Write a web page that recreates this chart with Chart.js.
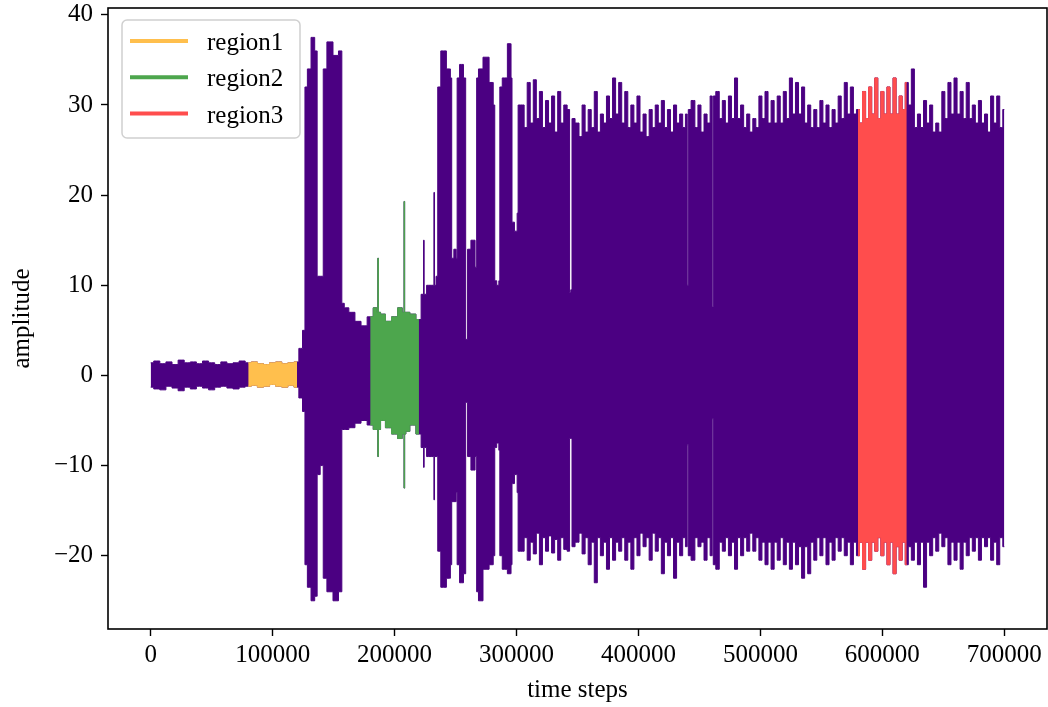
<!DOCTYPE html>
<html>
<head>
<meta charset="utf-8">
<title>amplitude over time steps</title>
<script src="https://cdn.jsdelivr.net/npm/chart.js@4.4.0/dist/chart.umd.min.js"></script>
<style>
  html, body { margin: 0; padding: 0; background: #fff; }
  #wrap { width: 1048px; height: 707px; position: relative; }
</style>
</head>
<body>
<div id="wrap"><canvas id="signalChart"></canvas></div>
<script>
// Signal envelope: time step, upper and lower amplitude
const steps = [
    0, 5000, 10000, 15000, 20000, 25000, 30000, 35000, 40000, 45000,
    50000, 55000, 60000, 65000, 70000, 75000, 80000, 85000, 90000, 95000,
    100000, 105000, 110000, 115000, 120000, 123000, 126000, 127000, 130000, 133000,
    136000, 137000, 141000, 142000, 147000, 152000, 156000, 157500, 160000, 165000,
    170000, 175000, 180000, 185000, 186000, 186500, 187000, 190000, 195000, 200000,
    205000, 207500, 208000, 208500, 210000, 215000, 220000, 223500, 224000, 224500,
    228000, 232000, 232500, 233000, 235000, 235800, 240000, 245000, 246500, 247200,
    250000, 251000, 251600, 255000, 258000, 258600, 259500, 260200, 265000, 267000,
    267600, 270000, 275000, 280000, 281800, 282500, 285000, 286000, 286600, 290000,
    295000, 296000, 296600, 300000, 301000,
    301600, 305000, 307500, 310000, 312500, 315000, 317500, 320000, 322500, 325000,
    327500, 330000, 332500, 335000, 337500, 340000, 343000, 344000, 345000, 346000,
    350000, 352500, 355000, 357500, 360000, 362500, 365000, 367500, 370000, 372500,
    375000, 377500, 380000, 382500, 385000, 387500, 390000, 392500, 395000, 397500,
    400000, 402500, 405000, 407500, 410000, 412500, 415000, 417500, 420000, 422500,
    425000, 427500, 430000, 432500, 435000, 437500, 439500, 440400, 441300, 445000,
    447500, 450000, 452500, 455000, 457500, 460000, 460900, 461800, 465000, 467500,
    470000, 472500, 475000, 477500, 480000, 482500, 485000, 487500, 490000, 492500,
    495000, 497500, 500000, 502500, 505000, 507500, 510000, 512500, 515000, 517500,
    520000, 522500, 525000, 527500, 530000, 532500, 535000, 537500, 540000, 542500,
    545000, 547500, 550000, 552500, 555000, 557500, 560000, 562500, 565000, 567500,
    570000, 572500, 575000, 577500, 580000, 582500, 585000, 587500, 590000, 592500,
    595000, 597500, 600000, 602500, 605000, 607500, 610000, 612500, 615000, 617500,
    620000, 622500, 625000, 627500, 630000, 632500, 635000, 637500, 640000, 642500,
    645000, 647500, 650000, 652500, 655000, 657500, 660000, 662500, 665000, 667500,
    670000, 672500, 675000, 677500, 680000, 682500, 685000, 687500, 690000, 692500,
    695000, 697500, 700000
];
const upper = [
    1.4, 1.6, 1.3, 1.5, 1.2, 1.7, 1.4, 1.5, 1.3, 1.6,
    1.4, 1.2, 1.5, 1.3, 1.4, 1.6, 1.4, 1.5, 1.3, 1.2,
    1.4, 1.5, 1.3, 1.4, 1.5, 3, 5, 32, 34, 37.5,
    36, 11, 11, 34, 37, 35.5, 36, 8, 7.5, 7,
    6, 5.5, 6.5, 7.5, 7, 13, 7, 6.8, 6, 6.5,
    7.5, 7, 19.3, 7, 7, 6.8, 6.2, 9, 15, 9,
    10, 10, 20.3, 10, 11, 32, 36, 34, 33, 13,
    14, 13, 33, 34.5, 33, 4, 4, 14, 15, 12,
    33, 34, 35.3, 32.5, 30, 10.5, 10, 10.5, 32, 33,
    36.8, 33, 17, 16, 18,
    30, 30, 27.5, 32.5, 28, 32.8, 28.5, 31.5, 27.5, 30.5,
    28, 31, 27, 31.5, 28, 30, 29.5, 9.2, 9.5, 28.5,
    28, 26.5, 30, 27, 29.5, 27.5, 31.5, 27, 29, 28,
    31, 28.5, 33, 29, 32.5, 28, 31.5, 27.5, 30, 28,
    31, 27, 29, 26.5, 29.5, 27.5, 30, 28, 30.5, 27.5,
    29.5, 27, 30, 28, 29, 27.5, 29, 10, 29.5, 30.5,
    27.5, 30, 27, 29, 28, 31, 7.6, 31, 31.5, 28.5,
    30.5, 28, 31, 28.5, 33, 28.5, 30, 27.5, 29, 27,
    28.5, 27.5, 31, 28.5, 31.5, 28, 30.5, 28, 31, 28,
    31.5, 28.5, 33, 29, 32.5, 29, 32, 28, 30, 27.5,
    29.5, 27.5, 30.5, 28, 30, 27.5, 29.5, 28, 31, 28.5,
    32.5, 29, 32, 29, 29.5, 28, 31.5, 28.5, 32, 29,
    33, 28.5, 31.5, 29, 32, 29, 33, 29, 31, 29.5,
    32.5, 30, 34, 27.5, 29, 27.5, 30.5, 28, 30, 27,
    28, 27, 31.5, 28.5, 32.5, 29, 33, 29, 31.5, 28.5,
    32.5, 28.5, 30, 28, 30.5, 28, 29, 27, 31, 28,
    31, 27.5, 29.5
];
const lower = [
    -1.3, -1.5, -1.6, -1.2, -1.4, -1.7, -1.3, -1.5, -1.2, -1.4,
    -1.6, -1.3, -1.2, -1.4, -1.5, -1.3, -1.2, -1.1, -1.3, -1.2,
    -1.0, -1.2, -1.3, -1.1, -1.3, -2.5, -4, -21, -23.5, -25,
    -24.5, -11, -10, -22.5, -24, -25, -24, -6, -6, -5.8,
    -5.3, -5, -5.5, -6, -6, -9, -6, -5, -5.8, -6.5,
    -7, -6.5, -12.5, -6.5, -6.2, -5.5, -6.5, -8, -10.2, -8,
    -9, -9, -13.8, -9, -9, -19.5, -23.5, -22.5, -21, -14,
    -14, -13, -21, -23, -22, -3, -3, -9, -10.5, -9,
    -24, -25, -21.5, -21, -20, -8, -7.5, -8.3, -20, -21.5,
    -22, -21, -12, -11, -13,
    -19.5, -19.5, -18, -20.5, -18.5, -19.8, -17.5, -21, -18, -19.5,
    -17.8, -19.7, -18.2, -20.5, -18, -19.3, -19.5, -7, -7, -19,
    -18.5, -17.5, -19.8, -18, -21, -18.5, -23, -18, -20, -18.5,
    -21.5, -18, -20.5, -18.5, -19.5, -18, -20.5, -18.5, -21.5, -18,
    -20, -17.5, -19, -18, -20.5, -17.5, -19.5, -18, -22, -18.5,
    -20, -18, -22.5, -18.5, -20, -18, -19, -7.7, -20, -20.5,
    -18, -19, -18.5, -20.5, -18, -20, -4.8, -21, -21.5, -18.5,
    -19.5, -18, -20, -18.5, -21.5, -18, -20, -18, -19.5, -17.5,
    -19.5, -18, -20.5, -18.5, -21, -18.5, -21.5, -18.5, -20.5, -18,
    -21, -18.5, -21.5, -18.5, -21, -19, -22.5, -19, -22, -18.5,
    -20.5, -18, -20, -18, -21, -18.5, -20.5, -18, -19.5, -18,
    -20, -18.5, -21, -18.5, -20, -18.5, -21.5, -18.5, -20.5, -18.5,
    -19.5, -18, -20, -18.5, -21, -18.5, -22, -19, -20.5, -18.5,
    -21, -19, -20.5, -18.5, -21, -18.5, -23.5, -18.5, -20, -18,
    -19.5, -17.5, -19, -18, -21, -18.5, -20.5, -18.5, -21.5, -18.5,
    -20, -18, -19.5, -18, -20.5, -18, -19, -18, -20.5, -18.5,
    -21, -18, -19
];

if (steps.length !== upper.length || steps.length !== lower.length) {
    throw new Error(`length mismatch: ${steps.length} ${upper.length} ${lower.length}`);
}

// Highlighted windows
const regionLabels = ['region1', 'region2', 'region3'];
const regionStarts = [80000, 180000, 580000];
const regionEnds = [120000, 220000, 620000];
const regionColors = ['#FFBF4D', '#4DA64D', '#FF4D4D'];

const xTicks = [0, 100000, 200000, 300000, 400000, 500000, 600000, 700000];
const yTicks = [-20, -10, 0, 10, 20, 30, 40];

const signalColor = '#4B0082';
const fontFamily = '"Liberation Serif", "DejaVu Serif", serif';

// Build an upper/lower pair of line datasets, filled between each other
function envelopePair(from, to, color, order) {
    const up = [];
    const low = [];
    steps.forEach((s, i) => {
        if (s >= from && s <= to) {
            up.push({ x: s, y: upper[i] });
            low.push({ x: s, y: lower[i] });
        }
    });
    const common = {
        borderColor: color,
        backgroundColor: color,
        borderWidth: 1,
        pointRadius: 0,
        stepped: 'middle',
        order: order
    };
    return [
        Object.assign({ data: up, fill: false }, common),
        Object.assign({ data: low, fill: '-1' }, common)
    ];
}

let datasets = envelopePair(steps[0], steps[steps.length - 1], signalColor, 4);
regionLabels.forEach((label, k) => {
    datasets = datasets.concat(envelopePair(regionStarts[k], regionEnds[k], regionColors[k], 1));
});

// Spines on all four sides
const framePlugin = {
    id: 'frame',
    afterDraw(chart) {
        const { ctx, chartArea } = chart;
        ctx.save();
        ctx.strokeStyle = '#000';
        ctx.lineWidth = 1.6;
        ctx.strokeRect(chartArea.left, chartArea.top,
            chartArea.right - chartArea.left, chartArea.bottom - chartArea.top);
        ctx.restore();
    }
};

// Legend box in the upper left corner, like matplotlib's
const legendPlugin = {
    id: 'regionLegend',
    afterDraw(chart) {
        const ctx = chart.ctx;
        const left = chart.chartArea.left + 14;
        const top = chart.chartArea.top + 12;
        const width = 178;
        const height = 118;
        ctx.save();
        ctx.beginPath();
        ctx.roundRect(left, top, width, height, 5);
        ctx.fillStyle = 'rgba(255,255,255,0.85)';
        ctx.fill();
        ctx.strokeStyle = '#d0d0d0';
        ctx.lineWidth = 1.5;
        ctx.stroke();

        ctx.font = '25px ' + fontFamily;
        ctx.fillStyle = '#000';
        ctx.textBaseline = 'alphabetic';
        regionLabels.forEach((label, k) => {
            const y = top + 21 + k * 36.3;
            ctx.beginPath();
            ctx.moveTo(left + 8, y);
            ctx.lineTo(left + 66, y);
            ctx.strokeStyle = regionColors[k];
            ctx.lineWidth = 4;
            ctx.stroke();
            ctx.fillText(label, left + 85, y + 9);
        });
        ctx.restore();
    }
};

const ctx = document.getElementById('signalChart').getContext('2d');
const chart = new Chart(ctx, {
    type: 'line',
    data: { datasets: datasets },
    options: {
        responsive: true,
        maintainAspectRatio: false,
        animation: false,
        layout: { padding: { left: 0, right: 1, top: 8, bottom: 0 } },
        plugins: {
            legend: { display: false },
            tooltip: { enabled: false }
        },
        scales: {
            x: {
                type: 'linear',
                min: -35000,
                max: 735000,
                afterBuildTicks: scale => { scale.ticks = xTicks.map(v => ({ value: v })); },
                afterFit: scale => {
                    scale.height = 78;
                    scale.paddingLeft = 0;
                    scale.paddingRight = 0;
                },
                ticks: {
                    color: '#000',
                    font: { family: fontFamily, size: 25 },
                    padding: 4,
                    maxRotation: 0,
                    autoSkip: false,
                    callback: v => String(v)
                },
                grid: { drawOnChartArea: false, drawTicks: true, tickLength: 7, tickColor: '#000', tickWidth: 1.4 },
                border: { display: false },
                title: {
                    display: true,
                    text: 'time steps',
                    color: '#000',
                    font: { family: fontFamily, size: 25 },
                    padding: { top: 0, bottom: 2 }
                }
            },
            y: {
                type: 'linear',
                min: -28.13,
                max: 40.76,
                afterBuildTicks: scale => { scale.ticks = yTicks.map(v => ({ value: v })); },
                afterFit: scale => {
                    scale.width = 108;
                    scale.paddingTop = 0;
                    scale.paddingBottom = 0;
                },
                ticks: {
                    color: '#000',
                    font: { family: fontFamily, size: 25 },
                    padding: 8,
                    callback: v => (v < 0 ? '\u2212' + Math.abs(v) : String(v))
                },
                grid: { drawOnChartArea: false, drawTicks: true, tickLength: 7, tickColor: '#000', tickWidth: 1.4 },
                border: { display: false },
                title: {
                    display: true,
                    text: 'amplitude',
                    color: '#000',
                    font: { family: fontFamily, size: 25 },
                    padding: { top: 7, bottom: 0 }
                }
            }
        }
    },
    plugins: [framePlugin, legendPlugin]
});
</script>
</body>
</html>
